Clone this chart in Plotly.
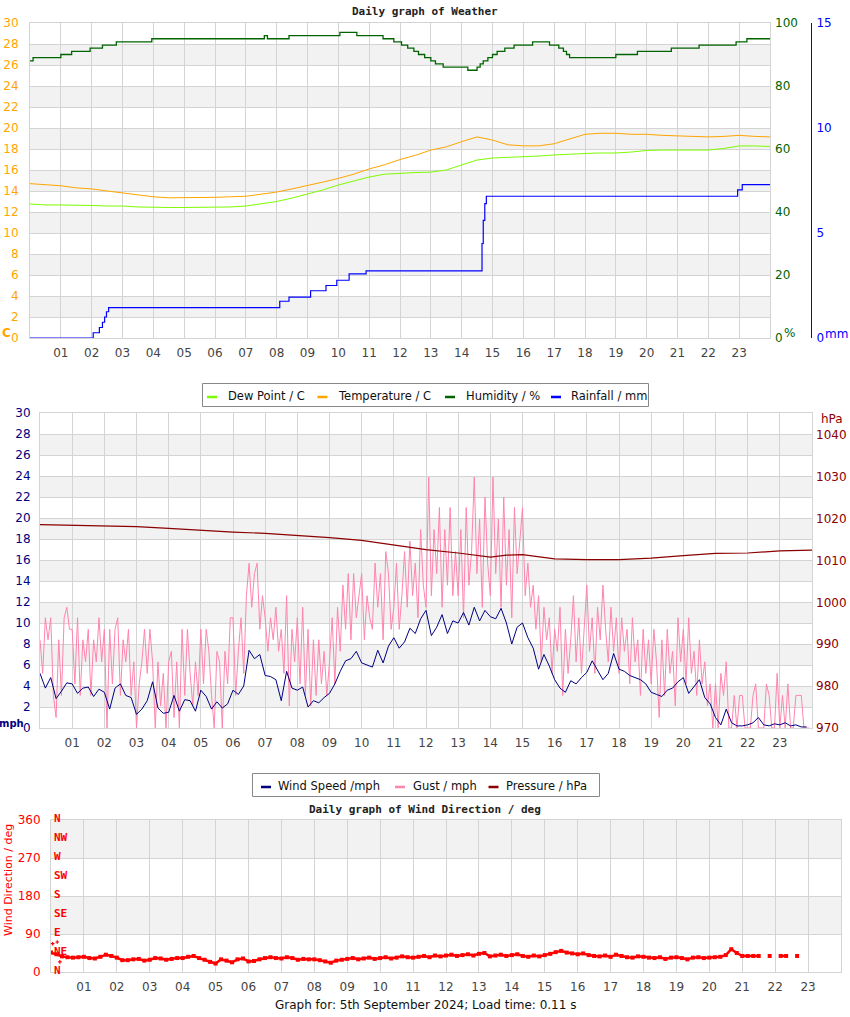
import plotly.graph_objects as go

# ---------------- shared axis labels ----------------
HOUR_TICKS = list(range(1, 24))
HOUR_LABELS = ["01", "02", "03", "04", "05", "06", "07", "08", "09", "10", "11", "12",
               "13", "14", "15", "16", "17", "18", "19", "20", "21", "22", "23"]

# ---------------- chart 1 : weather ----------------
HALF_HOURS = [i * 0.5 for i in range(49)]
TEMPERATURE = [14.7, 14.6, 14.5, 14.3, 14.2, 14.0, 13.8, 13.6, 13.45, 13.35,
               13.35, 13.35, 13.4, 13.45, 13.5, 13.7, 13.9, 14.2, 14.5, 14.85,
               15.2, 15.6, 16.1, 16.5, 17.0, 17.4, 17.9, 18.2, 18.7, 19.15,
               18.85, 18.4, 18.3, 18.3, 18.5, 18.95, 19.4, 19.5, 19.5, 19.4,
               19.4, 19.3, 19.25, 19.15, 19.15, 19.2, 19.3, 19.2, 19.15]
DEW_POINT = [12.76, 12.67, 12.67, 12.67, 12.62, 12.57, 12.57, 12.48, 12.43, 12.43,
             12.43, 12.43, 12.48, 12.48, 12.57, 12.76, 13.0, 13.33, 13.7, 14.1,
             14.57, 14.95, 15.33, 15.6, 15.7, 15.76, 15.8, 16.0, 16.48, 16.95,
             17.14, 17.19, 17.24, 17.33, 17.43, 17.52, 17.57, 17.62, 17.62, 17.71,
             17.86, 17.9, 17.9, 17.86, 17.9, 18.05, 18.29, 18.29, 18.24]
HUMIDITY_TIMES = [0, 0.1, 1.0, 1.35, 1.95, 2.35, 2.8, 3.95, 7.6, 7.7, 8.4, 10.05,
                  10.6, 11.45, 11.8, 12.05, 12.25, 12.45, 12.6, 12.8, 13.0, 13.15,
                  13.4, 14.2, 14.5, 14.6, 14.7, 14.85, 15.0, 15.15, 15.4, 15.7,
                  16.3, 16.85, 17.15, 17.3, 17.4, 17.5, 19.0, 19.7, 20.8, 21.7,
                  22.9, 23.25, 24.0]
HUMIDITY = [88, 89, 90, 91, 92, 93, 94, 95, 96, 95, 96, 97,
            96, 95, 94, 93, 92, 91, 90, 89, 88, 87,
            86, 85, 86, 87, 88, 89, 90, 91, 92, 93,
            94, 93, 92, 91, 90, 89, 90, 91, 92, 93,
            94, 95, 95]
RAIN_TIMES = [0, 2.05, 2.25, 2.35, 2.42, 2.48, 2.55, 8.1, 8.4, 9.1, 9.6, 9.95,
              10.35, 10.9, 14.62, 14.66, 14.7, 14.75, 14.8, 22.95, 23.1, 24.0]
RAINFALL = [0.0, 0.25, 0.5, 0.75, 1.0, 1.25, 1.45, 1.75, 1.95, 2.25, 2.5, 2.75,
            3.05, 3.2, 3.2, 4.5, 5.6, 6.4, 6.75, 7.05, 7.3, 7.3]

# ---------------- chart 2 : wind ----------------
WIND_SPEED = [  # every 10 minutes
    5.2, 3.8, 4.8, 2.8, 3.5, 4.3,
    4.2, 3.3, 3.8, 3.9, 3.0, 3.7,
    3.4, 1.8, 3.8, 4.2, 3.1, 2.9,
    1.3, 1.8, 2.6, 4.4, 1.9, 1.4,
    1.5, 3.1, 1.6, 2.7, 2.6, 1.6,
    3.6, 3.0, 1.8, 2.5, 1.9, 2.3,
    3.6, 3.2, 4.0, 7.4, 6.6, 7.0,
    5.0, 4.9, 4.6, 2.6, 5.4, 3.8,
    3.6, 3.9, 2.0, 2.6, 2.4, 2.9,
    3.3, 4.2, 5.4, 6.4, 6.6, 7.3,
    6.2, 6.0, 5.8, 7.4, 6.2, 7.8,
    8.6, 7.6, 8.2, 9.5, 9.0, 10.4,
    11.2, 8.8, 9.6, 10.8, 9.0, 10.2,
    10.0, 11.0, 9.8, 11.5, 10.2, 11.2,
    10.6, 10.4, 11.4, 10.0, 8.0, 9.6,
    10.0, 8.6, 7.6, 5.6, 7.0, 5.9,
    4.6, 3.8, 3.4, 4.5, 4.2, 4.8,
    5.3, 6.4, 5.5, 4.6, 5.2, 7.1,
    5.6, 5.4, 5.0, 4.8, 4.6, 4.2,
    3.4, 3.2, 3.0, 3.6, 3.8, 4.4,
    4.8, 3.3, 4.0, 4.6, 2.9, 2.3,
    1.0, 0.3, 1.8, 0.5, 0.2, 0.2,
    0.3, 0.5, 1.0, 0.3, 0.2, 0.4,
    0.3, 0.5, 0.2, 0.3, 0.1, 0.1]
GUST = [  # every 5 minutes
    8.4, 5.2, 10.5, 8.4, 10.5, 3.1, 1.0, 8.4, 3.1, 10.5, 11.5, 9.4,
    9.4, 4.2, 10.5, 3.1, 8.4, 6.3, 9.4, 3.1, 8.4, 6.3, 10.5, 6.3,
    9.4, 0.0, 9.4, 4.2, 9.4, 10.5, 3.1, 8.4, 6.3, 9.4, 3.1, 6.3,
    0.0, 4.2, 6.3, 9.4, 5.2, 9.4, 6.3, 0.0, 6.3, 2.1, 5.2, 0.0,
    6.3, 7.3, 1.0, 6.3, 0.0, 9.4, 3.1, 9.4, 5.2, 2.1, 6.3, 3.1,
    9.4, 4.2, 9.4, 7.3, 3.1, 0.0, 7.3, 6.3, 0.0, 7.3, 4.2, 10.5,
    10.5, 3.1, 7.3, 10.5, 5.2, 12.6, 15.7, 11.5, 14.7, 15.7, 9.4, 12.6,
    10.5, 7.3, 10.5, 8.4, 11.5, 7.3, 9.4, 5.2, 12.6, 2.1, 9.4, 6.3,
    10.5, 4.2, 11.5, 3.1, 9.4, 2.1, 8.4, 3.1, 8.4, 4.2, 7.3, 3.1,
    6.3, 10.5, 4.2, 11.5, 7.3, 13.6, 9.4, 14.7, 8.4, 14.7, 10.5, 12.6,
    14.7, 8.4, 12.6, 10.5, 9.4, 15.7, 11.5, 14.7, 8.4, 16.8, 14.7, 9.4,
    11.5, 15.7, 9.4, 12.6, 16.8, 11.5, 17.8, 12.6, 15.7, 10.5, 18.9, 13.6,
    11.5, 23.9, 12.6, 18.9, 14.7, 21.0, 11.5, 18.9, 13.6, 21.0, 12.6, 16.8,
    12.6, 18.9, 10.5, 21.0, 13.6, 16.8, 23.9, 14.7, 19.9, 11.5, 22.0, 15.7,
    12.6, 23.9, 14.7, 19.9, 11.5, 22.0, 13.6, 18.9, 10.5, 21.0, 14.7, 17.8,
    21.0, 12.6, 15.7, 11.5, 13.6, 9.4, 12.6, 6.3, 11.5, 8.4, 10.5, 5.2,
    9.4, 7.3, 11.5, 3.1, 9.4, 5.2, 8.4, 12.6, 6.3, 10.5, 5.2, 9.4,
    13.6, 7.3, 10.5, 5.2, 11.5, 8.4, 13.6, 9.4, 6.3, 11.5, 7.3, 10.5,
    5.2, 10.5, 7.3, 9.4, 4.2, 10.5, 6.3, 8.4, 3.1, 9.4, 5.2, 8.4,
    4.2, 9.4, 6.3, 1.0, 8.4, 3.1, 9.4, 5.2, 7.3, 2.1, 10.5, 6.3,
    9.4, 4.2, 10.5, 5.2, 7.3, 3.1, 8.4, 4.2, 6.3, 2.1, 4.2, 0.0,
    4.2, 0.0, 5.2, 3.1, 6.3, 0.0, 0.0, 3.1, 0.0, 3.1, 3.1, 0.0,
    0.0, 0.0, 3.1, 4.2, 0.0, 0.0, 0.0, 4.2, 3.1, 0.0, 0.0, 5.2,
    0.0, 3.1, 0.0, 4.2, 0.0, 0.0, 3.1, 3.1, 3.1, 0.0, 0.0, 0.0]
PRESSURE_TIMES = [0, 1, 2, 3, 4, 5, 6, 7, 8, 9, 10, 11, 12, 13, 14, 14.5, 15,
                  16, 17, 18, 19, 20, 21, 22, 23, 24]
PRESSURE = [1018.6, 1018.4, 1018.3, 1018.1, 1017.7, 1017.2, 1016.8, 1016.5,
            1016.0, 1015.5, 1014.8, 1013.7, 1012.6, 1011.8, 1010.8, 1011.3,
            1011.4, 1010.4, 1010.2, 1010.2, 1010.6, 1011.2, 1011.7, 1011.8,
            1012.3, 1012.5]

# ---------------- chart 3 : wind direction ----------------
WIND_DIR = [  # every 10 minutes, None = calm / no reading
    46, 42, 37, 35, 34, 35,
    36, 33, 32, 36, 41, 38,
    34, 28, 28, 30, 31, 27,
    29, 33, 32, 29, 31, 33,
    33, 36, 38, 33, 29, 24,
    20, 30, 27, 23, 30, 32,
    25, 26, 30, 33, 35, 33,
    32, 35, 33, 29, 31, 30,
    30, 28, 25, 22, 27, 29,
    31, 33, 30, 32, 34, 31,
    33, 35, 32, 34, 37, 35,
    34, 36, 38, 35, 39, 37,
    39, 41, 38, 40, 42, 39,
    43, 45, 37, 39, 41, 38,
    40, 42, 38, 36, 39, 37,
    40, 43, 47, 50, 46, 44,
    42, 44, 40, 38, 37, 39,
    36, 41, 38, 35, 34, 37,
    36, 34, 33, 35, 31, 34,
    35, 33, 30, 34, 35, 33,
    34, 35, 36, 40, 54, 45,
    38, 38, 38, 38, None, 38,
    None, 38, 38, None, 38, None,
    None, None, None, None, None, None]
WIND_DIR_EXTRA_TIMES = [0.05, 0.19, 0.27]
WIND_DIR_EXTRA = [67, 71, 24]
COMPASS_VALUES = [360, 315, 270, 225, 180, 135, 90, 45, 0]
COMPASS_LABELS = ["N", "NW", "W", "SW", "S", "SE", "E", "NE", "N"]

# ---------------- series names / colours ----------------
NAMES_1 = ["Dew Point / C", "Temperature / C", "Humidity / %", "Rainfall / mm"]
COLORS_1 = ["#7cfc00", "#ffa500", "#006400", "#0000ff"]
NAMES_2 = ["Wind Speed /mph", "Gust / mph", "Pressure / hPa"]
COLORS_2 = ["#000080", "#ff85ad", "#8b0000"]

# ---------------- styling / geometry ----------------
W, H = 850, 1017
FONT = "DejaVu Sans"
MONO = "DejaVu Sans Mono"
GRID = "#d4d4d4"
BAND = "#f2f2f2"
TICKC = "#444444"


def px(x):
    return x / W


def py(y):
    return 1 - y / H


gust_times = [i * 5 / 60 for i in range(len(GUST))]
ws_times = [i * 10 / 60 for i in range(len(WIND_SPEED))]
wd_times = [i * 10 / 60 for i in range(len(WIND_DIR))]

fig = go.Figure()

# chart 1 traces
fig.add_trace(go.Scatter(x=HALF_HOURS, y=DEW_POINT, name=NAMES_1[0], mode="lines",
                         line=dict(color=COLORS_1[0], width=1), xaxis="x", yaxis="y"))
fig.add_trace(go.Scatter(x=HALF_HOURS, y=TEMPERATURE, name=NAMES_1[1], mode="lines",
                         line=dict(color=COLORS_1[1], width=1), xaxis="x", yaxis="y"))
fig.add_trace(go.Scatter(x=HUMIDITY_TIMES, y=HUMIDITY, name=NAMES_1[2], mode="lines",
                         line=dict(color=COLORS_1[2], width=1.3, shape="hv"),
                         xaxis="x", yaxis="y2"))
fig.add_trace(go.Scatter(x=RAIN_TIMES, y=RAINFALL, name=NAMES_1[3], mode="lines",
                         line=dict(color=COLORS_1[3], width=1.2, shape="hv"),
                         xaxis="x", yaxis="y3"))

# chart 2 traces
fig.add_trace(go.Scatter(x=gust_times, y=GUST, name=NAMES_2[1], mode="lines",
                         line=dict(color=COLORS_2[1], width=1), xaxis="x2", yaxis="y4"))
fig.add_trace(go.Scatter(x=ws_times, y=WIND_SPEED, name=NAMES_2[0], mode="lines",
                         line=dict(color=COLORS_2[0], width=1), xaxis="x2", yaxis="y4"))
fig.add_trace(go.Scatter(x=PRESSURE_TIMES, y=PRESSURE, name=NAMES_2[2], mode="lines",
                         line=dict(color=COLORS_2[2], width=1.2), xaxis="x2", yaxis="y5"))

# chart 3 traces
fig.add_trace(go.Scatter(x=wd_times, y=WIND_DIR, name="Wind Direction / deg", mode="lines+markers",
                         line=dict(color="#ff0000", width=2.5),
                         marker=dict(color="#ff0000", size=4, symbol="square"),
                         connectgaps=False, xaxis="x3", yaxis="y6"))
fig.add_trace(go.Scatter(x=WIND_DIR_EXTRA_TIMES, y=WIND_DIR_EXTRA, name="Wind Direction / deg",
                         mode="markers", marker=dict(color="#ff0000", size=3, symbol="cross"),
                         xaxis="x3", yaxis="y6"))
fig.update_traces(showlegend=False)

tickfont = dict(family=FONT, size=12, color=TICKC)


def xaxis_style(dom, anchor):
    return dict(domain=dom, anchor=anchor, range=[0, 24], tickvals=HOUR_TICKS,
                ticktext=HOUR_LABELS, showgrid=True, gridcolor=GRID, gridwidth=1,
                showline=True, linecolor=GRID, linewidth=1, mirror=True, ticks="",
                tickfont=tickfont, zeroline=False, fixedrange=True, ticklabelstandoff=4,
                automargin=False)


def left_y(dom, anchor, rng, dtick, color, standoff):
    return dict(domain=dom, anchor=anchor, range=rng, dtick=dtick, showgrid=True,
                gridcolor=GRID, gridwidth=1, showline=True, linecolor=GRID, linewidth=1,
                mirror=True, ticks="", zeroline=False,
                tickfont=dict(family=FONT, size=12, color=color), ticklabelstandoff=standoff,
                fixedrange=True, automargin=False)


shapes = []
for lo in range(2, 30, 4):
    shapes.append(dict(type="rect", xref="x domain", yref="y", x0=0, x1=1, y0=lo, y1=lo + 2,
                       fillcolor=BAND, line=dict(width=0), layer="below"))
    shapes.append(dict(type="rect", xref="x2 domain", yref="y4", x0=0, x1=1, y0=lo, y1=lo + 2,
                       fillcolor=BAND, line=dict(width=0), layer="below"))
for lo in (90, 270):
    shapes.append(dict(type="rect", xref="x3 domain", yref="y6", x0=0, x1=1, y0=lo, y1=lo + 90,
                       fillcolor=BAND, line=dict(width=0), layer="below"))

annotations = [
    dict(text="<b>Daily graph of Weather</b>", x=px(425), y=py(12), xref="paper", yref="paper",
         showarrow=False, font=dict(family=MONO, size=11, color="#222222"),
         xanchor="center", yanchor="middle"),
    dict(text="<b>C</b>", x=px(6), y=py(333), xref="paper", yref="paper", showarrow=False,
         font=dict(family=FONT, size=12, color="#ffa500"), xanchor="center", yanchor="middle"),
    dict(text="%", x=px(789), y=py(333), xref="paper", yref="paper", showarrow=False,
         font=dict(family=FONT, size=12, color="#006400"), xanchor="center", yanchor="middle"),
    dict(text="mm", x=px(836), y=py(334), xref="paper", yref="paper", showarrow=False,
         font=dict(family=FONT, size=12, color="#0000ff"), xanchor="center", yanchor="middle"),
    dict(text="hPa", x=px(832), y=py(419), xref="paper", yref="paper", showarrow=False,
         font=dict(family=FONT, size=12, color="#8b0000"), xanchor="center", yanchor="middle"),
    dict(text="<b>mph</b>", x=px(11), y=py(723), xref="paper", yref="paper", showarrow=False,
         font=dict(family=FONT, size=10, color="#000080"), xanchor="center", yanchor="middle"),
    dict(text="<b>Daily graph of Wind Direction / deg</b>", x=px(425), y=py(809), xref="paper",
         yref="paper", showarrow=False, font=dict(family=MONO, size=11, color="#222222"),
         xanchor="center", yanchor="middle"),
    dict(text="Wind Direction / deg", x=px(8), y=py(880), xref="paper", yref="paper",
         showarrow=False, textangle=-90, font=dict(family=FONT, size=11, color="#ff0000"),
         xanchor="center", yanchor="middle"),
    dict(text="Graph for: 5th September 2024; Load time: 0.11 s", x=px(425), y=py(1005),
         xref="paper", yref="paper", showarrow=False,
         font=dict(family=FONT, size=12, color="#111111"), xanchor="center", yanchor="middle"),
]
for val, lab in zip(COMPASS_VALUES, COMPASS_LABELS):
    annotations.append(dict(text="<b>" + lab + "</b>", x=px(52), y=val, xref="paper", yref="y6",
                            showarrow=False, xanchor="left", yanchor="middle", yshift=2,
                            font=dict(family=MONO, size=11, color="#ff0000")))


# ---- legends (boxed key rows under charts 1 and 2) ----
def add_legend(box, names, colors, sym_x, text_x, y_mid):
    x0, y0, x1, y1 = box
    shapes.append(dict(type="rect", xref="paper", yref="paper", x0=px(x0), x1=px(x1),
                       y0=py(y1), y1=py(y0), fillcolor="#ffffff",
                       line=dict(color="#888888", width=1), layer="above"))
    for name, color, sx, tx in zip(names, colors, sym_x, text_x):
        shapes.append(dict(type="line", xref="paper", yref="paper", x0=px(sx), x1=px(sx + 10),
                           y0=py(y_mid + 1), y1=py(y_mid + 1), line=dict(color=color, width=2.5),
                           layer="above"))
        annotations.append(dict(text=name, x=px(tx), y=py(y_mid), xref="paper", yref="paper",
                                showarrow=False, xanchor="left", yanchor="middle",
                                font=dict(family=FONT, size=11.5, color="#111111")))


add_legend((202.5, 383.5, 648.5, 406.5), NAMES_1, COLORS_1,
           [207, 317.5, 445, 551], [226, 336, 464, 569], 396)
add_legend((252.5, 773.5, 599.5, 796.5), NAMES_2, COLORS_2,
           [261, 395, 488.5], [276, 410.5, 504], 786)

fig.update_layout(
    width=W, height=H, margin=dict(l=0, r=0, t=0, b=0, pad=0, autoexpand=False),
    paper_bgcolor="#ffffff", plot_bgcolor="#ffffff",
    font=dict(family=FONT, size=12, color=TICKC),
    hovermode=False, showlegend=False,
    xaxis=xaxis_style([px(30), px(770)], "y"),
    yaxis=left_y([py(338), py(23)], "x", [0, 30], 2, "#ffa500", 8),
    yaxis2=dict(overlaying="y", side="right", anchor="x", range=[0, 100], dtick=20,
                showgrid=False, zeroline=False, ticks="", showline=False,
                tickfont=dict(family=FONT, size=12, color="#006400"), ticklabelstandoff=4,
                fixedrange=True, automargin=False),
    yaxis3=dict(overlaying="y", side="right", anchor="free", position=px(811), range=[0, 15],
                dtick=5, showgrid=False, zeroline=False, ticks="", showline=True,
                linecolor="#0000ff", linewidth=1,
                tickfont=dict(family=FONT, size=12, color="#0000ff"), ticklabelstandoff=2,
                fixedrange=True, automargin=False),
    xaxis2=xaxis_style([px(40), px(812)], "y4"),
    yaxis4=left_y([py(728), py(413)], "x2", [0, 30], 2, "#000080", 6),
    yaxis5=dict(overlaying="y4", side="right", anchor="x2", range=[970, 1045.25],
                tickvals=[970, 980, 990, 1000, 1010, 1020, 1030, 1040], showgrid=False,
                zeroline=False, ticks="", showline=False,
                tickfont=dict(family=FONT, size=12, color="#8b0000"), ticklabelstandoff=3,
                fixedrange=True, automargin=False),
    xaxis3=xaxis_style([px(51), px(841)], "y6"),
    yaxis6=left_y([py(972), py(820)], "x3", [0, 360], 90, "#ff0000", 7),
    shapes=shapes,
    annotations=annotations,
)

fig.write_html("out.html", config={"displayModeBar": False},
               post_script="document.body.style.margin='0';")
